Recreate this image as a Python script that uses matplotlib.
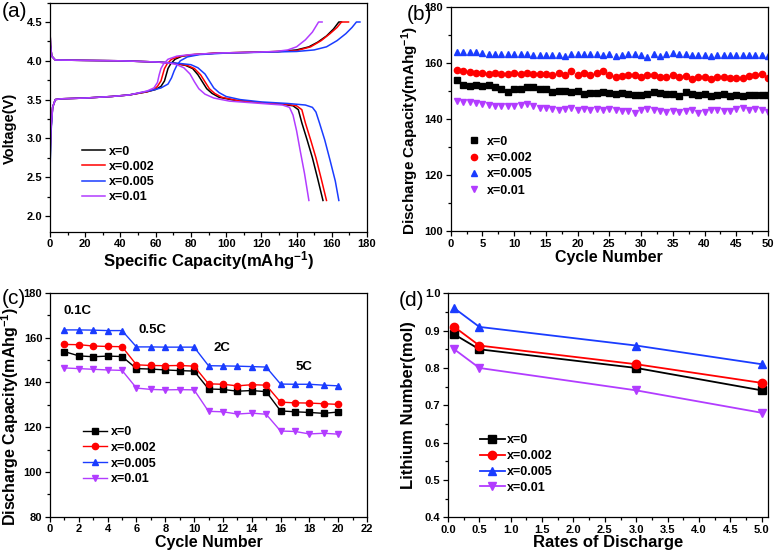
import matplotlib
matplotlib.use('Agg')
import matplotlib.pyplot as plt
from matplotlib.ticker import MultipleLocator

plt.rcParams['font.family'] = ['Liberation Sans', 'DejaVu Sans']
plt.rcParams['font.weight'] = 'bold'
plt.rcParams['mathtext.fontset'] = 'custom'
plt.rcParams['mathtext.rm'] = 'Liberation Sans:bold'
plt.rcParams['mathtext.bf'] = 'Liberation Sans:bold'
plt.rcParams['mathtext.default'] = 'rm'

labels = ['x=0', 'x=0.002', 'x=0.005', 'x=0.01']
colors = ['#000000', '#ff0000', '#1a3cff', '#b23cff']
markers = ['s', 'o', '^', 'v']

# (a) charge / discharge curves: capacity (mAh/g), voltage (V)
chg_q = [
    [0, 0.5, 1.5, 3, 6, 20, 35, 45, 55, 60, 63, 65, 66, 67, 68.5, 71, 75, 82, 95, 115, 130, 140, 147, 152, 157, 161, 164, 165.5],
    [0, 0.5, 1.5, 3, 6, 20, 35, 45, 55, 59, 61, 63, 64, 65, 66.5, 69, 74, 81, 95, 115, 130, 140, 148, 154, 159, 163, 165.5, 169.5],
    [0, 0.5, 1.5, 3, 6, 20, 35, 45, 58, 63, 67, 69, 70.5, 72, 74, 78, 85, 100, 120, 140, 150, 157, 163, 168, 171.5, 174, 176],
    [0, 0.5, 1.5, 3, 6, 20, 35, 45, 55, 59, 61, 62, 63, 64.5, 67, 72, 80, 95, 115, 128, 135, 140, 145, 149, 152.5, 154.5],
]
chg_v = [
    [2.60, 3.10, 3.40, 3.50, 3.51, 3.52, 3.54, 3.56, 3.60, 3.63, 3.67, 3.74, 3.82, 3.90, 3.96, 4.02, 4.06, 4.08, 4.10, 4.11, 4.12, 4.14, 4.18, 4.24, 4.32, 4.41, 4.50, 4.50],
    [2.80, 3.15, 3.40, 3.50, 3.51, 3.52, 3.54, 3.56, 3.60, 3.63, 3.67, 3.74, 3.82, 3.90, 3.96, 4.02, 4.06, 4.08, 4.10, 4.11, 4.12, 4.13, 4.18, 4.26, 4.35, 4.43, 4.50, 4.50],
    [2.55, 3.05, 3.40, 3.50, 3.51, 3.52, 3.54, 3.56, 3.62, 3.65, 3.70, 3.78, 3.87, 3.94, 4.00, 4.05, 4.08, 4.10, 4.11, 4.12, 4.14, 4.18, 4.26, 4.35, 4.43, 4.50, 4.50],
    [2.70, 3.10, 3.40, 3.50, 3.51, 3.52, 3.54, 3.56, 3.61, 3.65, 3.72, 3.82, 3.90, 3.96, 4.02, 4.06, 4.08, 4.10, 4.11, 4.12, 4.14, 4.18, 4.27, 4.37, 4.50, 4.50],
]
dis_q = [
    [0, 0.3, 1, 3, 20, 40, 60, 70, 77, 81, 84, 86.5, 89, 92, 96, 105, 120, 132, 138, 141, 143, 146, 149, 152, 155],
    [0, 0.3, 1, 3, 20, 40, 60, 70, 78, 82, 85.5, 88, 90.5, 93.5, 97.5, 106, 120, 134, 140, 143, 145, 148, 151, 154, 157],
    [0, 0.3, 1, 3, 20, 40, 60, 72, 80, 84, 88, 90.5, 93, 96, 100, 108, 120, 135, 145, 149, 151, 153, 156, 159, 162, 164],
    [0, 0.3, 1, 3, 20, 40, 60, 68, 72, 76, 79.5, 82, 84.5, 88, 93, 102, 120, 132, 136, 138, 140, 142, 144.5, 147],
]
dis_v = [
    [4.40, 4.20, 4.06, 4.01, 4.005, 4.00, 3.985, 3.97, 3.94, 3.90, 3.82, 3.73, 3.64, 3.58, 3.53, 3.49, 3.46, 3.44, 3.42, 3.37, 3.20, 2.98, 2.75, 2.48, 2.20],
    [4.40, 4.20, 4.06, 4.01, 4.005, 4.00, 3.985, 3.97, 3.94, 3.90, 3.82, 3.73, 3.64, 3.58, 3.53, 3.49, 3.46, 3.44, 3.42, 3.37, 3.20, 2.98, 2.75, 2.48, 2.20],
    [4.40, 4.20, 4.06, 4.01, 4.005, 4.00, 3.985, 3.97, 3.95, 3.91, 3.83, 3.74, 3.65, 3.59, 3.54, 3.50, 3.47, 3.45, 3.43, 3.40, 3.34, 3.20, 2.98, 2.72, 2.45, 2.20],
    [4.40, 4.20, 4.06, 4.01, 4.005, 4.00, 3.985, 3.97, 3.95, 3.91, 3.83, 3.73, 3.64, 3.57, 3.52, 3.48, 3.45, 3.43, 3.40, 3.30, 3.10, 2.85, 2.55, 2.20],
]

# (b) cycling, 50 cycles
cycles_b = list(range(1, 51))
cyc_b = [
    [153.8, 152.2, 151.7, 151.9, 151.6, 151.9, 151.2, 150.6, 149.7, 150.5, 150.5, 151.5, 151.5, 150.5, 150.5, 149.4, 149.9, 149.8, 149.7, 149.9,
     148.9, 149.3, 149.1, 149.6, 149.1, 148.9, 149.2, 148.9, 148.6, 148.5, 149.0, 149.6, 149.1, 148.7, 149.0, 148.3, 149.6, 148.9, 148.5, 148.7,
     148.1, 148.5, 148.7, 148.1, 148.6, 148.1, 148.6, 148.5, 148.5, 148.5],
    [157.3, 157.2, 156.8, 156.5, 156.5, 156.0, 156.2, 155.9, 155.9, 156.2, 156.1, 156.2, 156.0, 155.9, 155.9, 155.8, 156.3, 155.5, 156.9, 155.8,
     156.2, 155.6, 156.5, 157.2, 155.8, 155.0, 155.3, 155.8, 155.5, 155.0, 155.5, 155.6, 154.9, 155.1, 155.5, 154.8, 155.4, 154.2, 154.8, 154.8,
     154.2, 154.8, 154.8, 154.6, 154.6, 154.7, 155.4, 155.8, 156.0, 154.7],
    [163.9, 163.9, 163.7, 163.7, 163.6, 163.3, 163.3, 163.3, 163.3, 163.3, 163.2, 163.0, 162.9, 162.9, 162.9, 162.8, 162.8, 162.5, 163.1, 163.0,
     163.2, 163.3, 163.0, 162.8, 163.0, 162.4, 162.8, 163.2, 163.0, 162.9, 162.2, 163.2, 162.4, 163.0, 163.6, 163.0, 163.2, 162.8, 162.6, 162.6,
     162.5, 162.6, 162.6, 162.6, 162.6, 162.8, 162.6, 162.9, 162.8, 162.5],
    [146.4, 146.0, 145.9, 145.5, 145.2, 144.8, 144.6, 144.6, 144.6, 144.6, 144.8, 145.4, 144.7, 144.0, 143.7, 143.5, 143.1, 143.5, 143.9, 143.3,
     143.5, 143.0, 143.5, 143.3, 143.6, 143.1, 142.7, 142.7, 142.2, 143.0, 143.5, 143.3, 142.8, 142.5, 142.7, 142.3, 142.8, 143.0, 142.1, 142.3,
     143.0, 143.0, 142.9, 142.7, 143.6, 143.9, 143.1, 143.5, 143.1, 142.4],
]

# (c) rate capability, 20 cycles
cycles_c = list(range(1, 21))
rate_c = [
    [153.8, 151.9, 151.5, 151.8, 151.6, 146.2, 146.0, 145.6, 145.3, 145.1, 137.1, 136.9, 136.1, 136.4, 135.9, 127.3, 126.9, 126.6, 126.2, 126.8],
    [157.0, 156.9, 156.3, 156.1, 156.0, 147.9, 147.6, 147.5, 147.6, 147.3, 139.4, 139.2, 138.5, 139.0, 138.8, 131.2, 130.9, 130.8, 130.5, 130.2],
    [163.5, 163.5, 163.4, 163.2, 163.2, 155.9, 155.9, 155.8, 155.8, 155.8, 147.5, 147.4, 147.3, 147.1, 146.9, 139.3, 139.2, 139.2, 138.8, 138.5],
    [146.5, 146.2, 145.9, 145.6, 145.4, 137.5, 136.9, 136.7, 136.8, 136.7, 127.1, 126.9, 125.9, 126.3, 125.8, 118.3, 118.1, 117.0, 117.3, 116.9],
]
rate_names = ['0.1C', '0.5C', '2C', '5C']

# (d) lithium number vs discharge rate
rates_d = [0.1, 0.5, 3.0, 5.0]
li_d = [
    [0.89, 0.85, 0.80, 0.74],
    [0.91, 0.86, 0.81, 0.76],
    [0.96, 0.91, 0.86, 0.81],
    [0.85, 0.80, 0.74, 0.68],
]

W, H = 776, 557
fig = plt.figure(figsize=(W / 100, H / 100), dpi=100)


def box(l, r, t, b):
    return [l / W, 1 - b / H, (r - l) / W, (b - t) / H]


ax_a = fig.add_axes(box(50, 367, 2.6, 231.5))
ax_b = fig.add_axes(box(450.7, 768, 6.7, 231))
ax_c = fig.add_axes(box(50, 367, 293, 516.7))
ax_d = fig.add_axes(box(448, 768, 293.3, 517.3))

for ax in (ax_a, ax_b, ax_c, ax_d):
    ax.tick_params(which='both', direction='out', top=False, right=False, labelsize=8, width=0.9)
    ax.tick_params(which='major', length=3.5, pad=2)
    ax.tick_params(which='minor', length=2)
    for s in ax.spines.values():
        s.set_linewidth(0.9)

# (a)
for i in range(4):
    ax_a.plot(chg_q[i], chg_v[i], color=colors[i], lw=1.1, label=labels[i])
    ax_a.plot(dis_q[i], dis_v[i], color=colors[i], lw=1.1)
ax_a.set_xlim(0, 180)
ax_a.set_ylim(1.8, 4.75)
ax_a.xaxis.set_major_locator(MultipleLocator(20))
ax_a.xaxis.set_minor_locator(MultipleLocator(10))
ax_a.yaxis.set_major_locator(MultipleLocator(0.5))
ax_a.yaxis.set_minor_locator(MultipleLocator(0.25))
ax_a.set_xlabel(r'Specific Capacity(mAhg$^{-1}$)', fontsize=12, fontweight='bold')
ax_a.set_ylabel('Voltage(V)', fontsize=10.5, fontweight='bold')
ax_a.xaxis.set_label_coords(0.5, -0.075)
ax_a.yaxis.set_label_coords(-0.105, 0.45)
ax_a.legend(loc='upper left', bbox_to_anchor=(0.1, 0.375), frameon=False, fontsize=9,
            handlelength=1.9, handletextpad=0.3, labelspacing=0.25, borderpad=0, borderaxespad=0)

# (b)
for i in range(4):
    ax_b.plot(cycles_b, cyc_b[i], ls='none', marker=markers[i], ms=4.5, color=colors[i],
              mec=colors[i], label=labels[i])
ax_b.set_xlim(0, 50)
ax_b.set_ylim(100, 180)
ax_b.xaxis.set_major_locator(MultipleLocator(5))
ax_b.xaxis.set_minor_locator(MultipleLocator(2.5))
ax_b.yaxis.set_major_locator(MultipleLocator(20))
ax_b.yaxis.set_minor_locator(MultipleLocator(10))
ax_b.set_xlabel('Cycle Number', fontsize=11.5, fontweight='bold')
ax_b.set_ylabel(r'Discharge Capacity(mAhg$^{-1}$)', fontsize=11, fontweight='bold')
ax_b.xaxis.set_label_coords(0.5, -0.085)
ax_b.yaxis.set_label_coords(-0.095, 0.45)
ax_b.legend(loc='upper left', bbox_to_anchor=(0.05, 0.425), frameon=False, fontsize=9,
            handlelength=1.2, handletextpad=0.4, labelspacing=0.35, borderpad=0, borderaxespad=0)

# (c)
for i in range(4):
    ax_c.plot(cycles_c, rate_c[i], marker=markers[i], ms=4.5, lw=1.0, color=colors[i],
              mec=colors[i], label=labels[i])
text_pos_c = [(1.9, 172), (7.1, 163.6), (11.9, 155.4), (17.6, 146.8)]
for name, (tx, ty) in zip(rate_names, text_pos_c):
    ax_c.text(tx, ty, name, fontsize=9.5, fontweight='bold', ha='center', va='center')
ax_c.set_xlim(0, 22)
ax_c.set_ylim(80, 180)
ax_c.xaxis.set_major_locator(MultipleLocator(2))
ax_c.xaxis.set_minor_locator(MultipleLocator(1))
ax_c.yaxis.set_major_locator(MultipleLocator(20))
ax_c.yaxis.set_minor_locator(MultipleLocator(10))
ax_c.set_xlabel('Cycle Number', fontsize=11.5, fontweight='bold')
ax_c.set_ylabel(r'Discharge Capacity(mAhg$^{-1}$)', fontsize=11.5, fontweight='bold')
ax_c.xaxis.set_label_coords(0.5, -0.08)
ax_c.yaxis.set_label_coords(-0.09, 0.45)
ax_c.legend(loc='upper left', bbox_to_anchor=(0.105, 0.405), frameon=False, fontsize=9,
            handlelength=1.9, handletextpad=0.3, labelspacing=0.3, borderpad=0, borderaxespad=0)

# (d)
for i in range(4):
    ax_d.plot(rates_d, li_d[i], marker=markers[i], ms=6, lw=1.3, color=colors[i],
              mec=colors[i], label=labels[i])
ax_d.set_xlim(0, 5.1)
ax_d.set_ylim(0.4, 1.0)
ax_d.xaxis.set_major_locator(MultipleLocator(0.5))
ax_d.xaxis.set_minor_locator(MultipleLocator(0.25))
ax_d.yaxis.set_major_locator(MultipleLocator(0.1))
ax_d.yaxis.set_minor_locator(MultipleLocator(0.05))
ax_d.set_xlabel('Rates of Discharge', fontsize=12, fontweight='bold')
ax_d.set_ylabel('Lithium Number(mol)', fontsize=12, fontweight='bold')
ax_d.xaxis.set_label_coords(0.5, -0.08)
ax_d.yaxis.set_label_coords(-0.1, 0.5)
ax_d.legend(loc='upper left', bbox_to_anchor=(0.099, 0.37), frameon=False, fontsize=9,
            handlelength=2.0, handletextpad=0.15, labelspacing=0.3, borderpad=0, borderaxespad=0)

for ax in (ax_a, ax_b, ax_c, ax_d):
    for lab in ax.get_xticklabels() + ax.get_yticklabels():
        lab.set_fontweight('bold')

# panel tags
fig.text(2 / W, 1 - 2 / H, '(a)', fontsize=15, fontweight='normal', ha='left', va='top')
fig.text(407 / W, 1 - 5 / H, '(b)', fontsize=15, fontweight='normal', ha='left', va='top')
fig.text(2 / W, 1 - 289 / H, '(c)', fontsize=15, fontweight='normal', ha='left', va='top')
fig.text(399 / W, 1 - 291 / H, '(d)', fontsize=15, fontweight='normal', ha='left', va='top')

fig.savefig('out.png', dpi=100)
